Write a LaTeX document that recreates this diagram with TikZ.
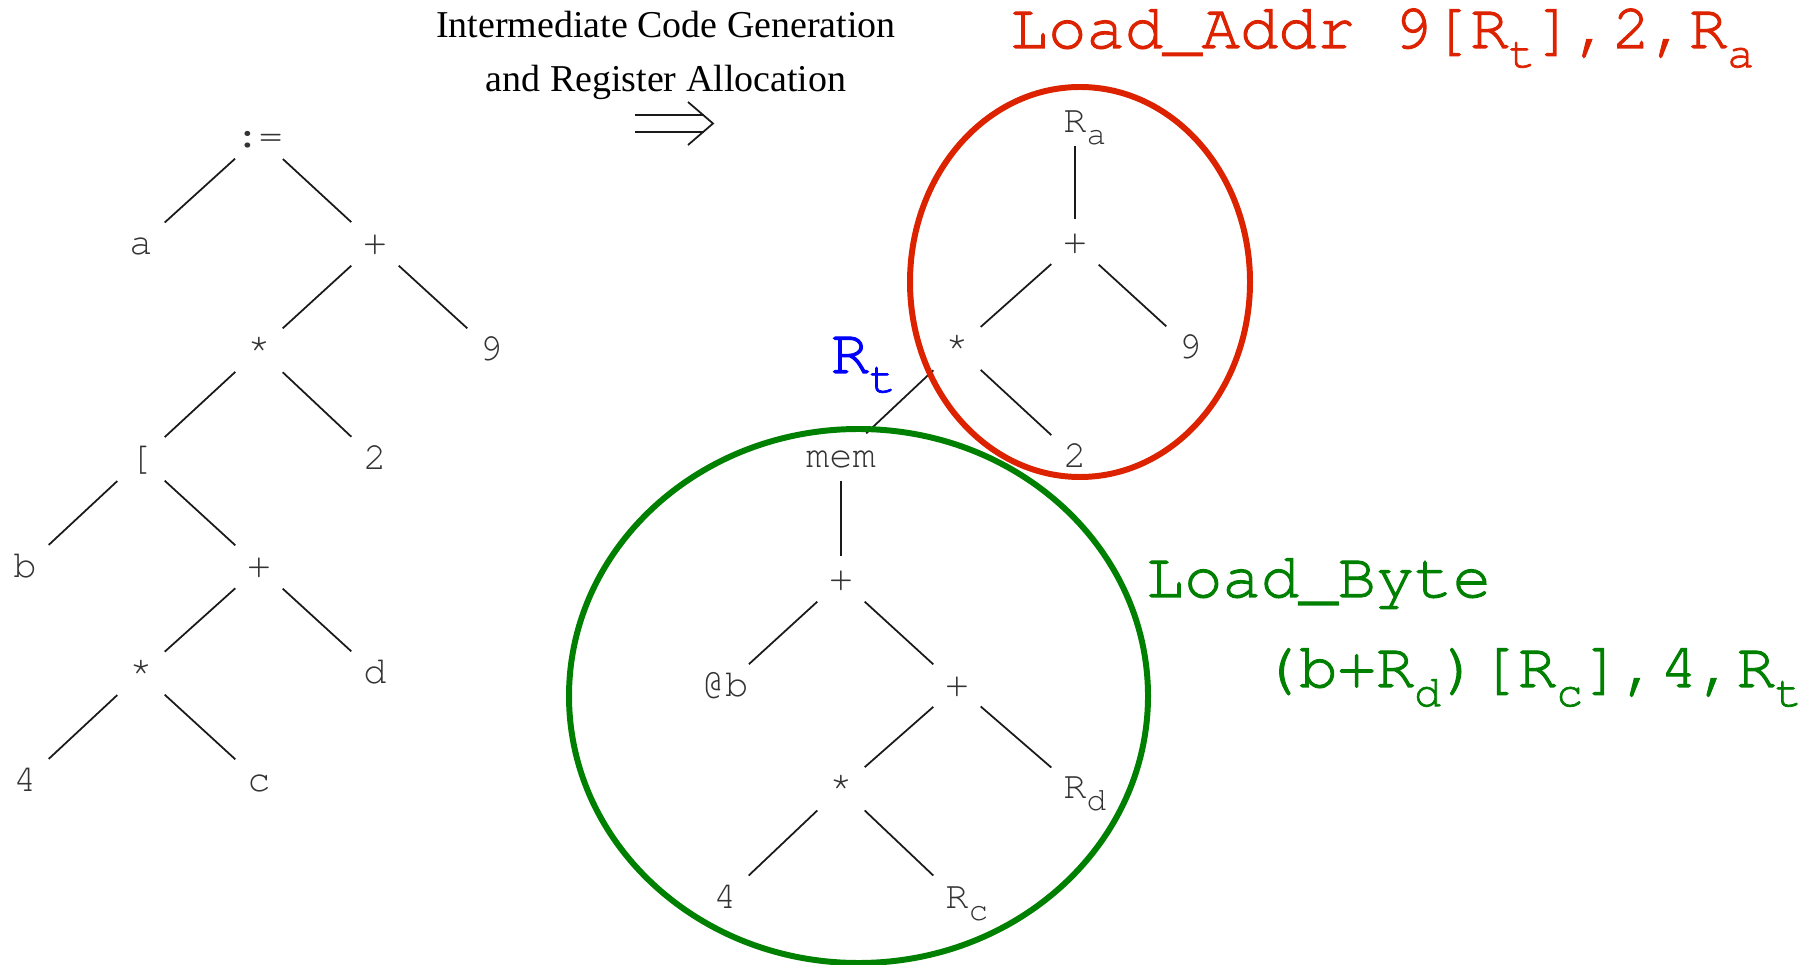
\documentclass[tikz,border=0pt]{standalone}
\usepackage{fontspec}
\setmainfont{Liberation Serif}
\newfontfamily\codefont{TeX Gyre Cursor}
\newfontfamily\instrfont{TeX Gyre Cursor}[FakeBold=1.6]
\definecolor{inkdark}{HTML}{1A1A1A}
\definecolor{inkgray}{HTML}{333333}
\definecolor{addrred}{HTML}{DD2200}
\definecolor{bytegreen}{HTML}{008000}
\definecolor{regblue}{HTML}{0000FF}
\newcommand{\lowsub}[1]{\raisebox{-0.3em}{\scalebox{0.7}{#1}}}
\newcommand{\treereg}[1]{R\rlap{\raisebox{-0.3em}{\scalebox{0.85}{#1}}}}

\begin{document}
\begin{tikzpicture}[
  tn/.style={font=\codefont\fontsize{11}{11}\selectfont, text=inkgray, inner sep=0pt,
    minimum size=0.46cm, text height=6.2pt, text depth=0pt},
  edge/.style={line width=0.5pt, inkdark},
  instr/.style={font=\instrfont\fontsize{18.2}{20}\selectfont, anchor=base west, inner sep=0pt},
  hoop/.style={line width=1.7pt}]
  \useasboundingbox (0,0) rectangle (18.19,9.64);

  % source tree
  \node[tn] (asg) at (2.59,8.27) {:=};
  \node[tn] (la) at (1.41,7.20) {a};
  \node[tn] (lplus) at (3.75,7.20) {+};
  \node[tn] (lmul) at (2.59,6.14) {*};
  \node[tn] (lnine) at (4.91,6.14) {9};
  \node[tn] (lidx) at (1.41,5.05) {[};
  \node[tn] (ltwo) at (3.75,5.05) {2};
  \node[tn] (lb) at (0.25,3.97) {b};
  \node[tn] (lplusb) at (2.59,3.97) {+};
  \node[tn] (lmulb) at (1.41,2.91) {*};
  \node[tn] (ld) at (3.75,2.91) {d};
  \node[tn] (lfour) at (0.25,1.83) {4};
  \node[tn] (lc) at (2.59,1.83) {c};
  \draw[edge] (asg) -- (la);  \draw[edge] (asg) -- (lplus);
  \draw[edge] (lplus) -- (lmul);  \draw[edge] (lplus) -- (lnine);
  \draw[edge] (lmul) -- (lidx);  \draw[edge] (lmul) -- (ltwo);
  \draw[edge] (lidx) -- (lb);  \draw[edge] (lidx) -- (lplusb);
  \draw[edge] (lplusb) -- (lmulb);  \draw[edge] (lplusb) -- (ld);
  \draw[edge] (lmulb) -- (lfour);  \draw[edge] (lmulb) -- (lc);

  % heading and arrow
  \node[anchor=base, inner sep=0pt, font=\fontsize{10.8}{13}\selectfont] (title) at (6.66,9.26) {Intermediate Code Generation};
  \node[anchor=base, inner sep=0pt, font=\fontsize{10.8}{13}\selectfont] (subtitle) at (6.66,8.72) {and Register Allocation};
  \coordinate (barup) at (6.35,8.49);  \coordinate (bardn) at (6.35,8.32);
  \coordinate (tip) at (7.13,8.405);
  \draw[line width=0.5pt, inkdark] (barup) -- ++(0.69,0) (bardn) -- ++(0.69,0);
  \draw[line width=0.5pt, inkdark] (6.88,8.62) -- (tip) -- (6.88,8.19);

  % covered tree
  \node[tn] (ra) at (10.75,8.42) {\treereg{a}};
  \node[tn] (rplus) at (10.75,7.21) {+};
  \node[tn] (rmul) at (9.57,6.16) {*};
  \node[tn] (rnine) at (11.90,6.16) {9};
  \node[tn] (rtwo) at (10.75,5.07) {2};
  \node[tn] (mem) at (8.41,5.07) {mem};
  \node[tn] (mplus) at (8.41,3.84) {+};
  \node[tn] (atb) at (7.25,2.78) {@b};
  \node[tn] (mplusb) at (9.57,2.78) {+};
  \node[tn] (mmul) at (8.41,1.76) {*};
  \node[tn] (rd) at (10.75,1.76) {\treereg{d}};
  \node[tn] (mfour) at (7.25,0.66) {4};
  \node[tn] (rc) at (9.57,0.66) {\treereg{c}};
  \draw[edge] (ra) -- (rplus);
  \draw[edge] (rplus) -- (rmul);  \draw[edge] (rplus) -- (rnine);
  \draw[edge] (rmul) -- (rtwo);  \draw[edge] (rmul) -- (mem);
  \draw[edge] (mem) -- (mplus);
  \draw[edge] (mplus) -- (atb);  \draw[edge] (mplus) -- (mplusb);
  \draw[edge] (mplusb) -- (mmul);  \draw[edge] (mplusb) -- (rd);
  \draw[edge] (mmul) -- (mfour);  \draw[edge] (mmul) -- (rc);

  % instruction groups
  \draw[hoop, addrred] (10.80,6.82) ellipse (1.70 and 1.95);
  \draw[hoop, bytegreen] (8.585,2.68) ellipse (2.895 and 2.67);
  \node[instr, text=regblue] (rtlabel) at (8.30,5.91) {R\lowsub{t}};
  \node[instr, text=addrred] (addrinstr) at (10.09,9.16) {Load\_Addr 9[R\lowsub{t}],2,R\lowsub{a}};
  \node[instr, text=bytegreen] (byteinstr) at (11.45,3.67) {Load\_Byte};
  \node[instr, text=bytegreen] (byteargs) at (12.60,2.77) {(b+R\lowsub{d})[R\lowsub{c}],4,R\lowsub{t}};
\end{tikzpicture}
\end{document}
